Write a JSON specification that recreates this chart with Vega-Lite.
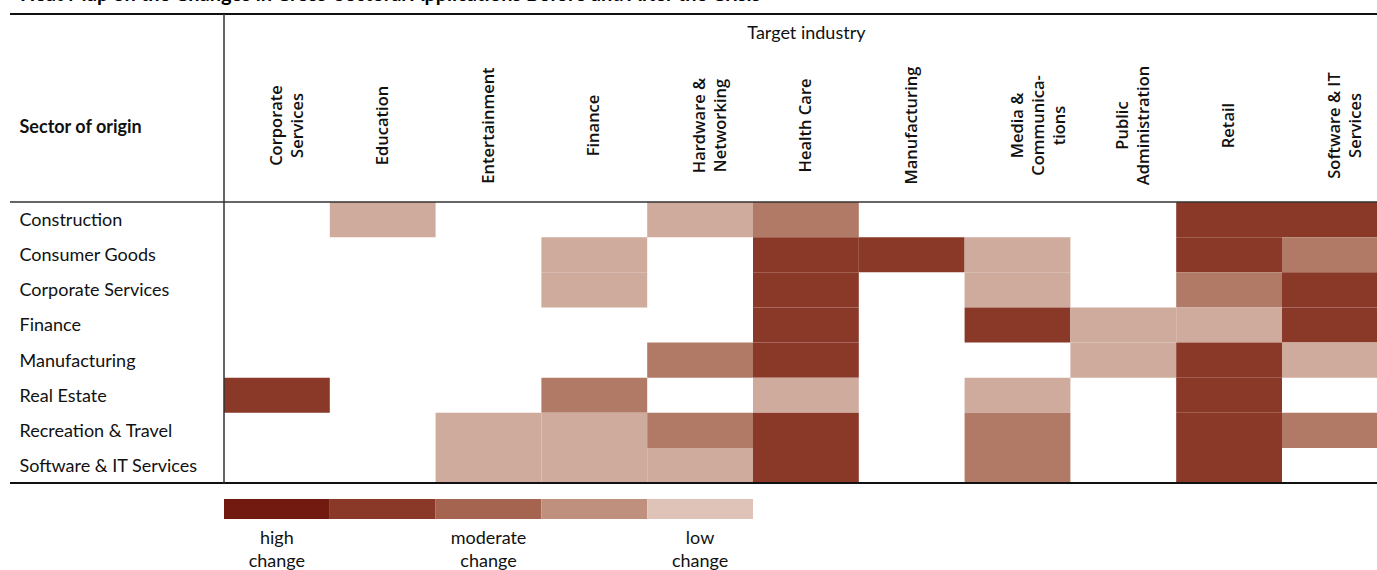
{
  "$schema": "https://vega.github.io/schema/vega-lite/v6.json",
  "autosize": "none",
  "padding": {"left": 10, "top": 14, "right": 0, "bottom": 87},
  "width": 1367,
  "height": 469,
  "background": "white",
  "title": {
    "text": "Heat Map on the Changes in Cross-Sectoral Applications Before and After the Crisis",
    "anchor": "start",
    "frame": "group",
    "offset": 0,
    "baseline": "alphabetic",
    "dx": 10,
    "dy": 8,
    "font": "Lato",
    "fontSize": 20,
    "fontWeight": "bold",
    "color": "#000000"
  },
  "config": {
    "font": "Lato",
    "view": {"stroke": "#111111", "strokeWidth": 2, "strokeDash": [1367, 10000]}
  },
  "datasets": {
    "cells": [
      {"origin": "Construction", "target": "Education", "change": "low"},
      {"origin": "Construction", "target": "Hardware & Networking", "change": "low"},
      {"origin": "Construction", "target": "Health Care", "change": "moderate"},
      {"origin": "Construction", "target": "Retail", "change": "high"},
      {"origin": "Construction", "target": "Software & IT Services", "change": "high"},
      {"origin": "Consumer Goods", "target": "Finance", "change": "low"},
      {"origin": "Consumer Goods", "target": "Health Care", "change": "high"},
      {"origin": "Consumer Goods", "target": "Manufacturing", "change": "high"},
      {"origin": "Consumer Goods", "target": "Media & Communications", "change": "low"},
      {"origin": "Consumer Goods", "target": "Retail", "change": "high"},
      {"origin": "Consumer Goods", "target": "Software & IT Services", "change": "moderate"},
      {"origin": "Corporate Services", "target": "Finance", "change": "low"},
      {"origin": "Corporate Services", "target": "Health Care", "change": "high"},
      {"origin": "Corporate Services", "target": "Media & Communications", "change": "low"},
      {"origin": "Corporate Services", "target": "Retail", "change": "moderate"},
      {"origin": "Corporate Services", "target": "Software & IT Services", "change": "high"},
      {"origin": "Finance", "target": "Health Care", "change": "high"},
      {"origin": "Finance", "target": "Media & Communications", "change": "high"},
      {"origin": "Finance", "target": "Public Administration", "change": "low"},
      {"origin": "Finance", "target": "Retail", "change": "low"},
      {"origin": "Finance", "target": "Software & IT Services", "change": "high"},
      {"origin": "Manufacturing", "target": "Hardware & Networking", "change": "moderate"},
      {"origin": "Manufacturing", "target": "Health Care", "change": "high"},
      {"origin": "Manufacturing", "target": "Public Administration", "change": "low"},
      {"origin": "Manufacturing", "target": "Retail", "change": "high"},
      {"origin": "Manufacturing", "target": "Software & IT Services", "change": "low"},
      {"origin": "Real Estate", "target": "Corporate Services", "change": "high"},
      {"origin": "Real Estate", "target": "Finance", "change": "moderate"},
      {"origin": "Real Estate", "target": "Health Care", "change": "low"},
      {"origin": "Real Estate", "target": "Media & Communications", "change": "low"},
      {"origin": "Real Estate", "target": "Retail", "change": "high"},
      {"origin": "Recreation & Travel", "target": "Entertainment", "change": "low"},
      {"origin": "Recreation & Travel", "target": "Finance", "change": "low"},
      {"origin": "Recreation & Travel", "target": "Hardware & Networking", "change": "moderate"},
      {"origin": "Recreation & Travel", "target": "Health Care", "change": "high"},
      {"origin": "Recreation & Travel", "target": "Media & Communications", "change": "moderate"},
      {"origin": "Recreation & Travel", "target": "Retail", "change": "high"},
      {"origin": "Recreation & Travel", "target": "Software & IT Services", "change": "moderate"},
      {"origin": "Software & IT Services", "target": "Entertainment", "change": "low"},
      {"origin": "Software & IT Services", "target": "Finance", "change": "low"},
      {"origin": "Software & IT Services", "target": "Hardware & Networking", "change": "low"},
      {"origin": "Software & IT Services", "target": "Health Care", "change": "high"},
      {"origin": "Software & IT Services", "target": "Media & Communications", "change": "moderate"},
      {"origin": "Software & IT Services", "target": "Retail", "change": "high"}
    ],
    "legend": [
      {"level": "high change"},
      {"level": "high-moderate"},
      {"level": "moderate change"},
      {"level": "moderate-low"},
      {"level": "low change"}
    ]
  },
  "resolve": {
    "scale": {"x": "independent", "y": "independent", "color": "independent"},
    "axis": {"x": "independent", "y": "independent"}
  },
  "layer": [
    {
      "layer": [
        {
          "data": {"name": "cells"},
          "mark": {"type": "rect"},
          "encoding": {
            "x": {
              "field": "target",
              "type": "nominal",
              "title": "Target industry",
              "scale": {
                "domain": ["Corporate Services", "Education", "Entertainment", "Finance", "Hardware & Networking", "Health Care", "Manufacturing", "Media & Communications", "Public Administration", "Retail", "Software & IT Services"],
                "range": [214, 1377.8],
                "paddingInner": 0,
                "paddingOuter": 0
              },
              "axis": {
                "orient": "top",
                "offset": -188,
                "domain": false,
                "ticks": false,
                "tickSize": 0,
                "grid": false,
                "labelAngle": -90,
                "labelAlign": "center",
                "labelBaseline": "middle",
                "labelPadding": 77,
                "labelFont": "Open Sans",
                "labelFontWeight": 600,
                "labelFontSize": 16.5,
                "labelLineHeight": 21,
                "labelColor": "#111111",
                "labelOverlap": false,
                "labelBound": false,
                "labelFlush": false,
                "labelLimit": 0,
                "labelExpr": "datum.value == 'Corporate Services' ? ['Corporate','Services'] : datum.value == 'Hardware & Networking' ? ['Hardware &','Networking'] : datum.value == 'Media & Communications' ? ['Media &','Communica-','tions'] : datum.value == 'Public Administration' ? ['Public','Administration'] : datum.value == 'Software & IT Services' ? ['Software & IT','Services'] : datum.value",
                "titleY": -169,
                "titleBaseline": "middle",
                "titleFont": "Lato",
                "titleFontSize": 18,
                "titleFontWeight": "normal",
                "titleColor": "#111111"
              }
            },
            "y": {
              "field": "origin",
              "type": "nominal",
              "title": "Sector of origin",
              "scale": {
                "domain": ["Construction", "Consumer Goods", "Corporate Services", "Finance", "Manufacturing", "Real Estate", "Recreation & Travel", "Software & IT Services"],
                "range": [188, 469],
                "paddingInner": 0,
                "paddingOuter": 0
              },
              "axis": {
                "orient": "left",
                "domain": false,
                "ticks": false,
                "tickSize": 0,
                "grid": false,
                "labelAlign": "left",
                "labelBaseline": "middle",
                "labelPadding": -9,
                "labelOffset": 1.5,
                "labelFont": "Lato",
                "labelFontSize": 18,
                "labelColor": "#111111",
                "labelLimit": 0,
                "labelBound": false,
                "labelFlush": false,
                "labelOverlap": false,
                "titleAngle": 0,
                "titleAlign": "left",
                "titleBaseline": "middle",
                "titleX": 9,
                "titleY": 113,
                "titleFont": "Lato",
                "titleFontSize": 18,
                "titleFontWeight": "bold",
                "titleColor": "#111111"
              }
            },
            "color": {
              "field": "change",
              "type": "nominal",
              "scale": {"domain": ["low", "moderate", "high"], "range": ["#CFAB9E", "#B17A66", "#8A3828"]},
              "legend": null
            }
          }
        },
        {
          "data": {"values": [{"origin": "Construction"}]},
          "mark": {"type": "rule", "color": "#333333", "strokeWidth": 1.5},
          "encoding": {
            "y": {"field": "origin", "type": "nominal", "bandPosition": 0, "title": "Sector of origin"}
          }
        },
        {
          "data": {"values": [{"origin": "Software & IT Services"}]},
          "mark": {"type": "rule", "color": "#111111", "strokeWidth": 2},
          "encoding": {
            "y": {"field": "origin", "type": "nominal", "bandPosition": 1, "title": "Sector of origin"}
          }
        },
        {
          "data": {"values": [{"target": "Corporate Services"}]},
          "mark": {"type": "rule", "color": "#333333", "strokeWidth": 1.5},
          "encoding": {
            "x": {"field": "target", "type": "nominal", "bandPosition": 0, "title": "Target industry"}
          }
        }
      ]
    },
    {
      "data": {"name": "legend"},
      "mark": {"type": "rect"},
      "encoding": {
        "x": {
          "field": "level",
          "type": "nominal",
          "scale": {
            "domain": ["high change", "high-moderate", "moderate change", "moderate-low", "low change"],
            "range": [214, 743],
            "paddingInner": 0,
            "paddingOuter": 0
          },
          "axis": {
            "orient": "bottom",
            "offset": 36,
            "domain": false,
            "ticks": false,
            "tickSize": 0,
            "grid": false,
            "labelAngle": 0,
            "labelAlign": "center",
            "labelBaseline": "top",
            "labelPadding": 10,
            "labelFont": "Lato",
            "labelFontSize": 18,
            "labelLineHeight": 23,
            "labelColor": "#111111",
            "labelOverlap": false,
            "labelExpr": "indexof(datum.value, ' ') > 0 ? split(datum.value, ' ') : ''",
            "title": null
          }
        },
        "y": {
          "datum": "swatch",
          "type": "nominal",
          "scale": {"range": [485, 505], "paddingInner": 0, "paddingOuter": 0},
          "axis": null
        },
        "color": {
          "field": "level",
          "type": "nominal",
          "scale": {
            "domain": ["high change", "high-moderate", "moderate change", "moderate-low", "low change"],
            "range": ["#731A10", "#8A3828", "#A5644F", "#C0907F", "#DFC3B8"]
          },
          "legend": null
        }
      }
    }
  ]
}
